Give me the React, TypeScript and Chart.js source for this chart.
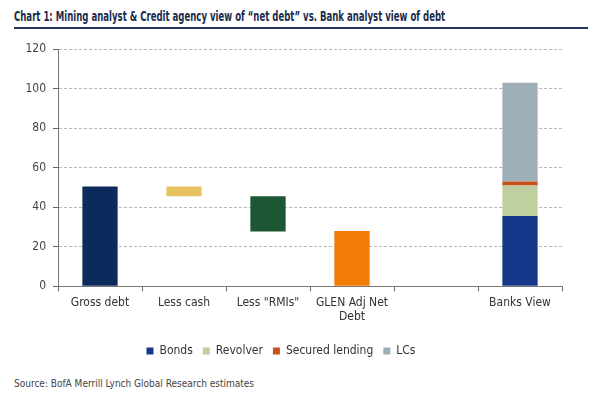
import React, { useEffect, useLayoutEffect, useRef } from "react";
import { Chart, registerables } from "chart.js";

Chart.register(...registerables);

const categories: (string | string[])[] = ["Gross debt", "Less cash", 'Less "RMIs"', ["GLEN Adj Net", "Debt"], "", "Banks View"];
const waterfallValues: ([number, number] | null)[] = [[0, 50.5], [45.5, 50.5], [27.7, 45.5], [0, 28], null, null];
const waterfallColors = ["#0c2a5b", "#e7c260", "#1d5632", "#f07b05", "#ffffff", "#ffffff"];
const bonds: ([number, number] | null)[] = [null, null, null, null, null, [0, 35.5]];
const revolver: ([number, number] | null)[] = [null, null, null, null, null, [35.5, 51]];
const securedLending: ([number, number] | null)[] = [null, null, null, null, null, [51, 53]];
const lcs: ([number, number] | null)[] = [null, null, null, null, null, [53, 103]];
const yTicks = [0, 20, 40, 60, 80, 100, 120];

const FONT = "'Liberation Sans Narrow', 'DejaVu Sans Condensed', 'Roboto', sans-serif";
const TITLE = "Chart 1: Mining analyst & Credit agency view of “net debt” vs. Bank analyst view of debt";

export default function App() {
  const ref = useRef<HTMLCanvasElement>(null);
  const titleRef = useRef<HTMLDivElement>(null);

  useLayoutEffect(() => {
    const el = titleRef.current;
    if (!el) return;
    const w = el.scrollWidth;
    if (w > 0) el.style.transform = `scaleX(${431 / w})`;
  }, []);

  useEffect(() => {
    if (!ref.current) return;
    const common = { grouped: false, barPercentage: 0.42, categoryPercentage: 1 };
    const chart = new Chart(ref.current, {
      type: "bar",
      data: {
        labels: categories,
        datasets: [
          { label: "waterfall", data: waterfallValues as any, backgroundColor: waterfallColors, ...common },
          { label: "Bonds", data: bonds as any, backgroundColor: "#17388a", ...common },
          { label: "Revolver", data: revolver as any, backgroundColor: "#bfcf9f", ...common },
          { label: "Secured lending", data: securedLending as any, backgroundColor: "#c8521c", ...common },
          { label: "LCs", data: lcs as any, backgroundColor: "#9eafb7", ...common },
        ],
      },
      options: {
        animation: false,
        responsive: true,
        maintainAspectRatio: false,
        layout: { padding: { left: 0, right: 38, top: 3, bottom: 0 } },
        plugins: {
          tooltip: { enabled: false },
          legend: {
            position: "bottom",
            labels: {
              filter: (item) => item.text !== "waterfall",
              boxWidth: 7,
              boxHeight: 7,
              padding: 10,
              color: "#333",
              font: { family: FONT, size: 12 },
            },
          },
        },
        scales: {
          x: {
            afterFit: (s: any) => { s.height = s.height + 7; },
            grid: { display: true, drawOnChartArea: false, drawTicks: true, tickLength: 5, color: "#666", offset: true },
            border: { display: true, color: "#777" },
            ticks: { color: "#333", font: { family: FONT, size: 12 }, maxRotation: 0, autoSkip: false, padding: 4 },
          },
          y: {
            min: 0,
            max: 120,
            afterBuildTicks: (s: any) => { s.ticks = yTicks.map((v) => ({ value: v })); },
            afterFit: (s: any) => { s.width = 58; },
            grid: { color: "#b8b8b8", tickColor: "#666", tickLength: 5, lineWidth: 1 } as any,
            border: { display: true, color: "#777", dash: [3, 2] } as any,
            ticks: { color: "#444", font: { family: FONT, size: 12 }, padding: 7 },
          },
        },
      },
    });
    return () => chart.destroy();
  }, []);

  return (
    <div style={{ position: "absolute", left: 0, top: 0, width: 600, height: 397, background: "#fff", overflow: "hidden" }}>
      <div
        ref={titleRef}
        style={{
          position: "absolute", left: 14, top: 8, fontFamily: FONT, fontWeight: "bold", fontSize: 13.5,
          color: "#1b2b4b", whiteSpace: "nowrap", transformOrigin: "0 0", display: "inline-block",
        }}
      >
        {TITLE}
      </div>
      <div style={{ position: "absolute", left: 14, top: 27, width: 574, height: 2, background: "#1f3560" }} />
      <div style={{ position: "absolute", left: 0, top: 35, width: 600, height: 332 }}>
        <canvas ref={ref} />
      </div>
      <div
        style={{ position: "absolute", left: 14, top: 378, fontFamily: FONT, fontSize: 10, color: "#444", whiteSpace: "nowrap" }}
      >
        Source: BofA Merrill Lynch Global Research estimates
      </div>
    </div>
  );
}
